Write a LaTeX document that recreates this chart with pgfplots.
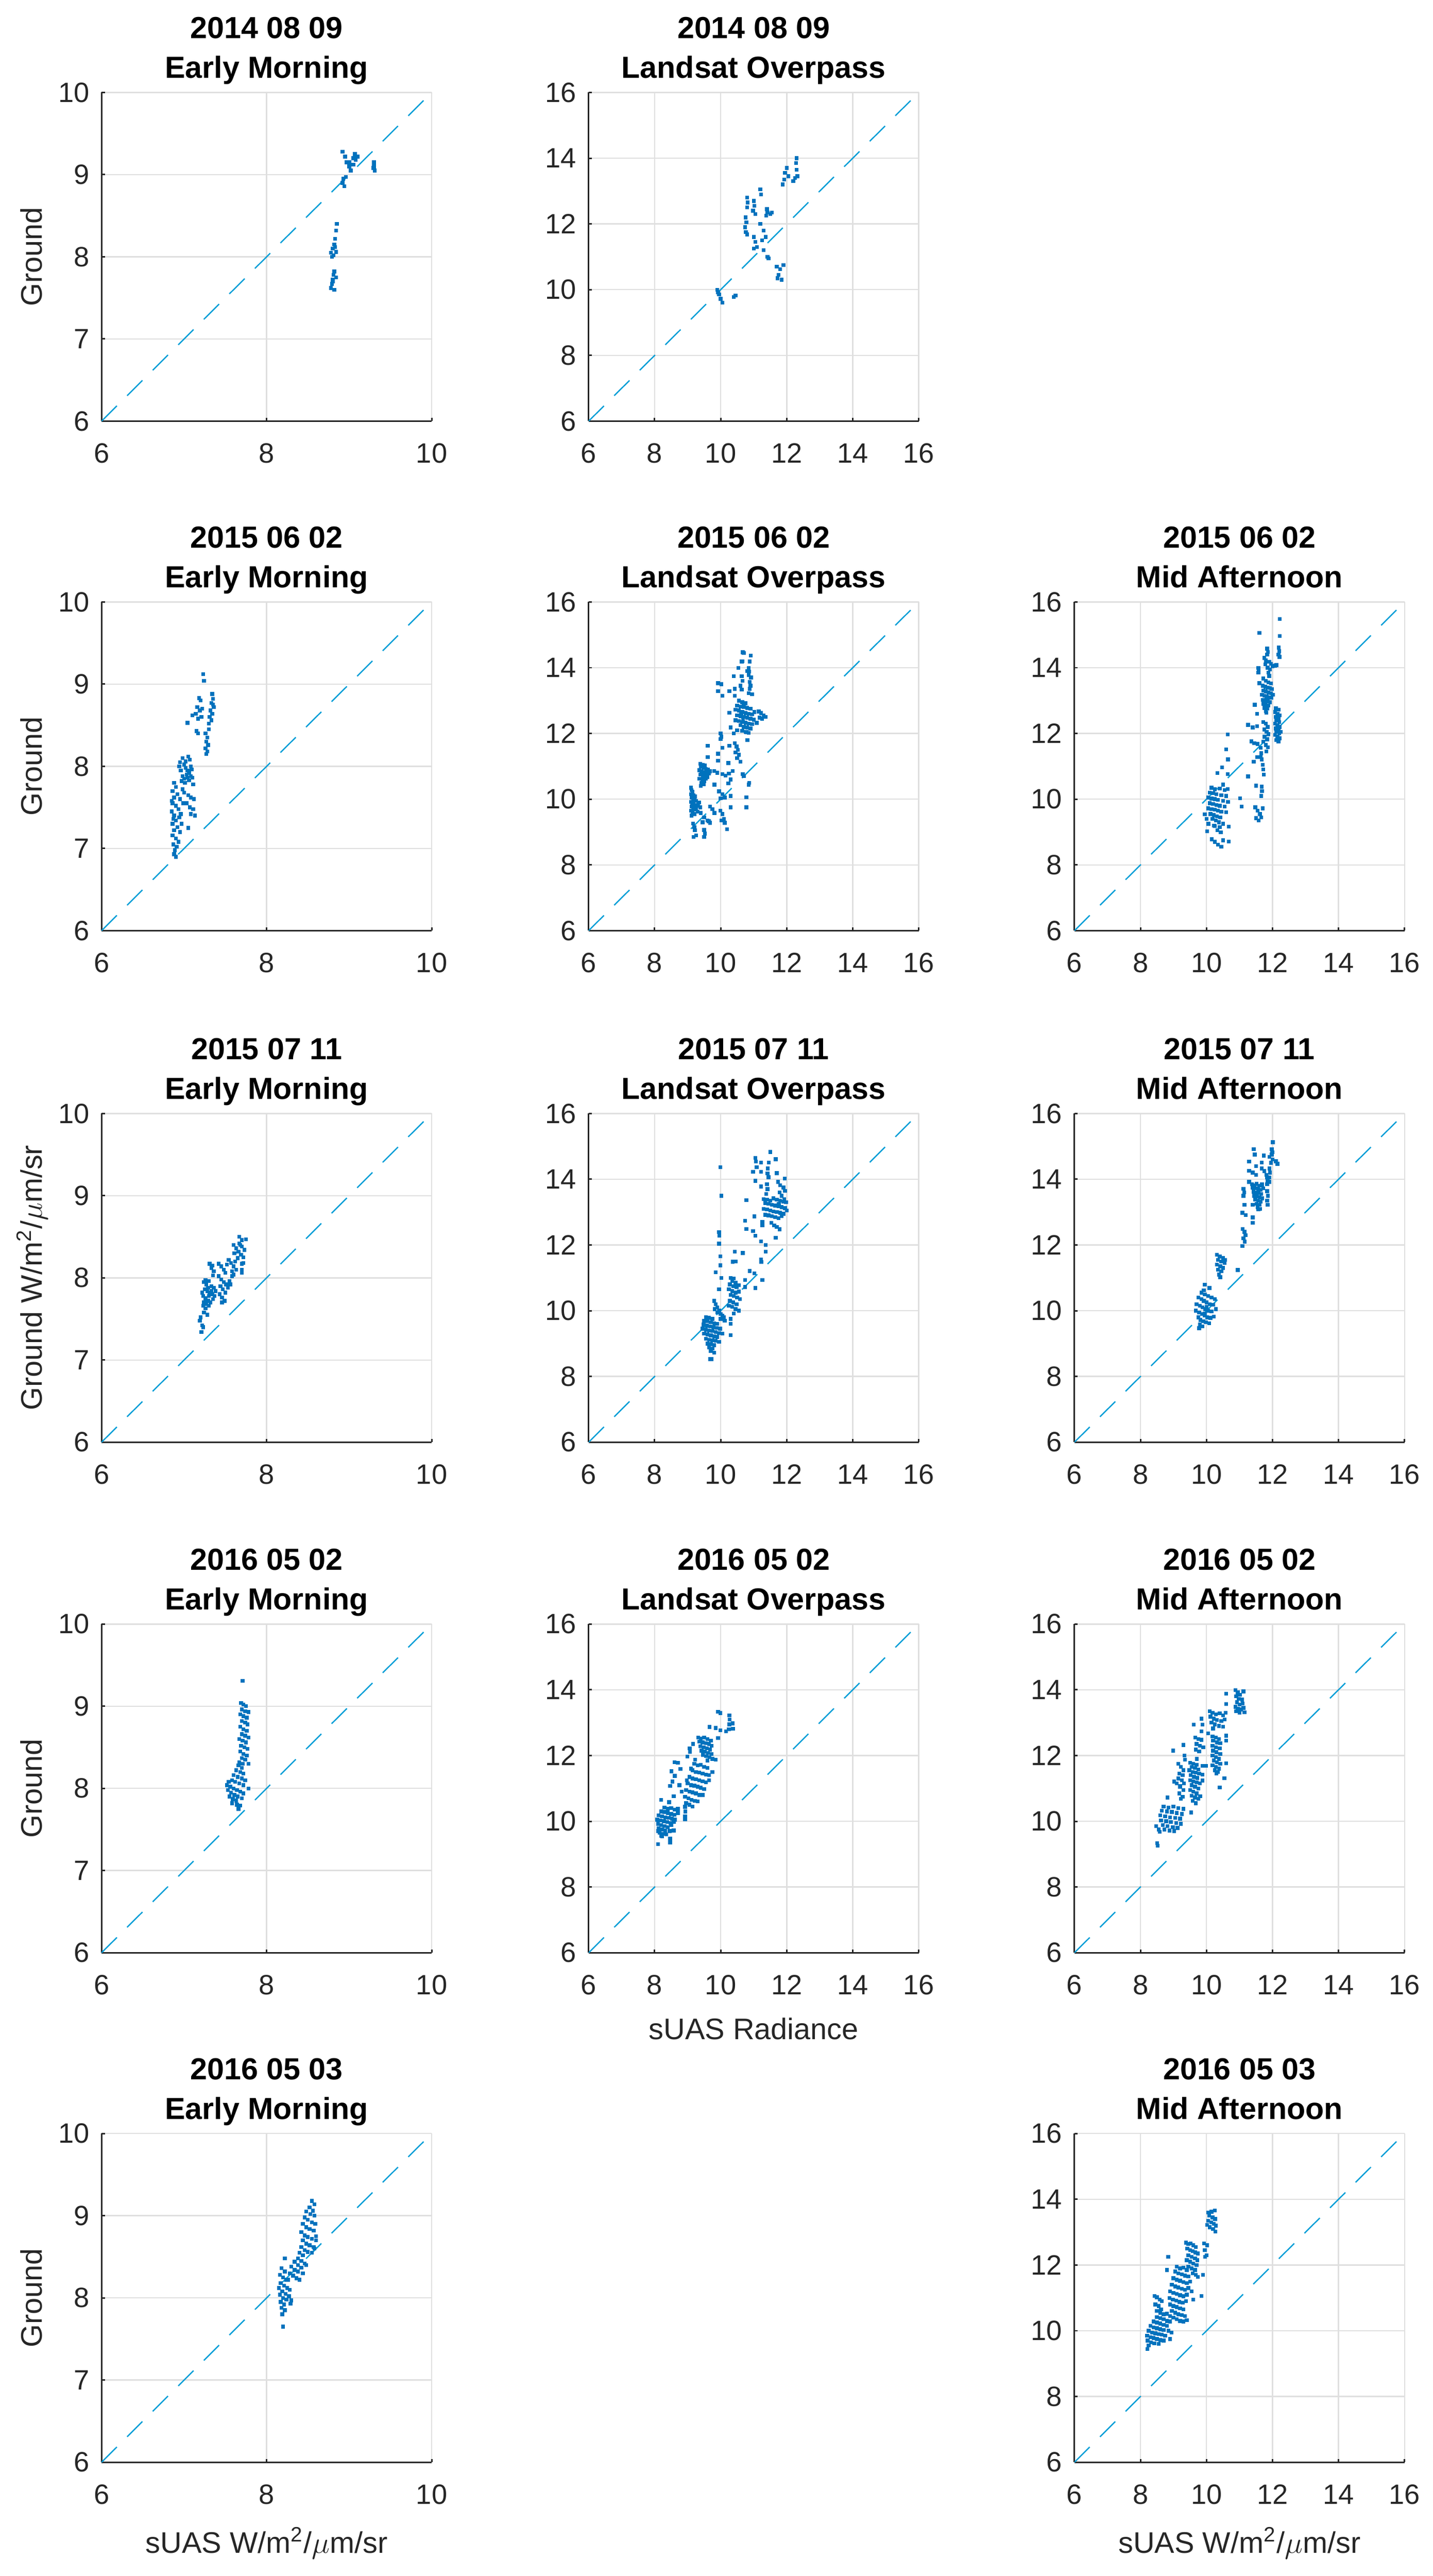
\documentclass[border=0pt]{standalone}
\usepackage{fontspec}
\setmainfont{Liberation Sans}
\usepackage{pgfplots}
\pgfplotsset{compat=1.18}

\definecolor{ptblue}{RGB}{0,114,189}
\definecolor{dashblue}{RGB}{0,157,214}
\definecolor{axgray}{RGB}{38,38,38}
\definecolor{gridgray}{RGB}{223,223,223}

\pgfplotsset{
  panel/.style={
    scale only axis, width=130pt, height=129.4pt, anchor=north west,
    axis lines=left, axis line style={-, color=axgray, line width=0.6pt},
    grid=major, major grid style={color=gridgray, line width=0.5pt},
    tick align=inside, major tick length=1.3pt,
    tick style={color=axgray, line width=0.6pt},
    /pgf/number format/assume math mode=true,
    ticklabel style={font=\fontsize{11}{13}\selectfont, color=axgray},
    xticklabel style={yshift=-5.3pt},
    yticklabel style={xshift=-1.3pt},
    title style={font=\bfseries\fontsize{12}{15.6}\selectfont, align=center,
      text depth=0pt, inner sep=0pt, anchor=south, at={(axis description cs:0.5,1)}, yshift=-0.6pt},
    ylabel style={font=\fontsize{11.7}{14}\selectfont, color=axgray,
      at={(axis description cs:-0.18,0.5)}, anchor=base},
    xlabel style={font=\fontsize{11.7}{14}\selectfont, color=axgray,
      at={(axis description cs:0.5,0)}, anchor=north, inner sep=0pt, yshift=-25.4pt},
  },
  small/.style={panel, xmin=6, xmax=10, ymin=6, ymax=10,
    xtick={6,8,10}, ytick={6,7,8,9,10}},
  big/.style={panel, xmin=6, xmax=16, ymin=6, ymax=16,
    xtick={6,8,...,16}, ytick={6,8,...,16}},
  pts/.style={only marks, mark=square*, mark size=0.55pt, color=ptblue},
  diag/.style={no marks, color=dashblue, line width=0.5pt, dash pattern=on 8.5pt off 5.7pt},
}

\begin{document}
\begin{tikzpicture}
\useasboundingbox (0,0) rectangle (564.2pt,-1014.2pt);

% ---------------- row 1 : 2014 08 09
\begin{axis}[small, at={(40pt,-36.4pt)},
  title={2014 08 09\\Early Morning}, ylabel={Ground}]
\addplot[diag] coordinates {(6,6) (10,10)};
\addplot[pts] coordinates {
(8.85,8.40)(8.84,8.32)(8.83,8.22)(8.82,8.15)(8.80,8.10)(8.78,8.05)(8.81,8.02)(8.84,8.06)(8.79,8.00)(8.83,8.12)
(8.82,7.82)(8.81,7.78)(8.80,7.72)(8.79,7.67)(8.78,7.62)(8.82,7.60)(8.84,7.75)(8.80,7.70)
(8.92,9.28)(8.95,9.22)(8.97,9.15)(9.00,9.10)(9.02,9.05)(9.05,9.12)(9.07,9.25)(9.05,9.20)(9.08,9.18)(9.10,9.22)
(8.93,8.95)(8.92,8.90)(8.94,8.86)(8.96,8.97)(9.30,9.15)(9.30,9.10)(9.31,9.05)(9.29,9.08)(9.00,9.15)};
\end{axis}

\begin{axis}[big, at={(231.8pt,-36.4pt)},
  title={2014 08 09\\Landsat Overpass}]
\addplot[diag] coordinates {(6,6) (16,16)};
\addplot[pts] coordinates {
(9.90,10.00)(9.95,9.85)(10.00,9.72)(10.05,9.60)(9.92,9.92)(10.40,9.78)(10.45,9.82)
(10.80,12.80)(10.82,12.65)(10.80,12.50)(11.00,12.70)(11.02,12.55)(10.98,12.40)(11.05,12.30)(10.75,12.20)(10.78,12.05)
(10.74,11.90)(11.20,13.05)(11.22,12.90)(11.40,12.45)(11.42,12.35)(11.38,12.25)(11.55,12.35)(11.50,12.30)(10.76,11.75)
(10.80,11.68)(11.00,11.60)(11.05,11.45)(11.10,11.30)(11.00,11.25)(11.25,11.50)(11.30,11.20)(11.36,11.60)(11.20,12.00)
(11.30,11.80)(11.42,11.00)(11.45,10.95)
(11.70,10.70)(11.80,10.62)(11.75,10.45)(11.72,10.35)(11.85,10.30)(11.90,10.75)
(12.30,14.00)(12.28,13.85)(12.30,13.65)(12.32,13.45)(12.25,13.40)(12.00,13.70)(11.95,13.55)(11.92,13.35)(12.20,13.30)
(11.88,13.20)(12.05,13.45)};
\end{axis}

% ---------------- row 2 : 2015 06 02
\begin{axis}[small, at={(40pt,-237pt)},
  title={2015 06 02\\Early Morning}, ylabel={Ground}]
\addplot[diag] coordinates {(6,6) (10,10)};
\addplot[pts] coordinates {
(6.95,8.05)(6.98,8.10)(7.00,8.02)(7.02,7.98)(7.04,7.95)(7.06,7.92)(7.08,7.88)(7.05,8.12)(7.07,8.08)(7.03,7.90)
(7.00,7.85)(6.98,7.88)(7.01,7.80)(7.06,7.83)(7.09,7.96)(7.10,7.86)(6.96,7.95)(6.94,8.00)(7.02,8.06)(7.04,7.86)
(7.11,7.78)(7.08,8.00)(6.97,7.82)
(6.88,7.80)(6.90,7.75)(6.86,7.70)(6.92,7.66)(6.88,7.62)(6.95,7.60)(6.86,7.55)(6.90,7.52)(6.93,7.48)(6.85,7.45)
(6.88,7.40)(6.94,7.38)(6.90,7.34)(6.86,7.30)(6.92,7.26)(6.88,7.22)(6.95,7.20)(6.86,7.16)(6.90,7.12)(6.93,7.08)
(6.87,7.05)(6.91,7.02)(6.89,6.98)(6.88,6.93)(6.90,6.90)(6.97,7.30)(6.96,7.42)(6.99,7.55)(7.00,7.68)(6.98,7.72)
(6.85,7.58)(6.87,7.36)
(7.05,7.65)(7.08,7.62)(7.12,7.60)(7.07,7.50)(7.11,7.48)(7.13,7.40)(7.08,7.42)(7.05,7.25)(7.03,7.55)
(7.23,9.12)(7.24,9.04)(7.18,8.83)(7.20,8.80)(7.16,8.72)(7.19,8.68)(7.14,8.64)(7.21,8.60)(7.17,8.58)(7.22,8.70)
(7.15,8.43)(7.17,8.40)(7.04,8.53)(7.10,8.62)
(7.34,8.88)(7.35,8.82)(7.33,8.77)(7.36,8.72)(7.32,8.68)(7.34,8.64)(7.31,8.60)(7.33,8.56)(7.30,8.52)(7.35,8.75)
(7.26,8.40)(7.28,8.35)(7.27,8.30)(7.29,8.26)(7.26,8.22)(7.28,8.18)(7.30,8.45)(7.27,8.15)};
\end{axis}

\begin{axis}[big, at={(231.8pt,-237pt)},
  title={2015 06 02\\Landsat Overpass}]
\addplot[diag] coordinates {(6,6) (16,16)};
\addplot[pts] coordinates {
(10.67,14.47)(10.70,14.45)(10.91,14.37)(10.64,14.19)(10.66,14.20)(10.88,14.19)(10.54,13.99)(10.85,13.99)(10.86,13.88)
(10.85,13.78)(10.40,13.74)(10.64,13.74)(10.66,13.60)(10.88,13.57)(10.90,13.45)(10.88,13.36)(9.92,13.53)(10.02,13.50)
(9.92,13.29)(10.05,13.15)(10.26,13.29)(10.43,13.36)(10.64,13.33)(10.85,13.22)(10.95,13.19)(10.43,13.15)(10.80,13.90)
(10.92,13.70)(10.60,13.45)
(10.55,13.00)(10.65,12.95)(10.75,12.92)(10.50,12.85)(10.60,12.82)(10.70,12.80)(10.80,12.78)(10.90,12.75)(10.45,12.72)
(10.55,12.70)(10.65,12.65)(10.75,12.62)(10.85,12.60)(10.95,12.58)(10.50,12.55)(10.60,12.52)(10.70,12.50)(10.80,12.48)
(10.90,12.45)(11.00,12.42)(10.45,12.40)(10.55,12.38)(10.65,12.35)(10.75,12.32)(10.85,12.30)(10.95,12.28)(10.60,12.25)
(10.70,12.20)(10.80,12.18)(10.90,12.15)(10.50,12.10)(10.65,12.08)(10.75,12.05)(10.85,12.02)(10.40,12.00)(10.70,12.88)
(10.62,12.58)(10.68,12.42)(11.02,12.65)
(11.15,12.67)(11.22,12.62)(11.30,12.55)(11.36,12.50)(11.25,12.45)(11.18,12.48)(11.09,12.32)(10.26,12.63)(10.30,12.18)
(10.78,12.04)
(10.00,12.00)(10.02,11.90)(10.00,11.83)(9.61,11.63)(10.05,11.56)(10.26,11.63)(10.43,11.70)(10.48,11.60)(10.52,11.50)
(10.45,11.42)(10.55,11.35)(10.50,11.25)(10.60,11.14)(10.81,11.80)(9.92,11.38)(9.92,11.17)(10.23,11.10)(9.61,11.28)
(9.38,11.08)(9.45,11.05)(9.52,11.02)(9.40,10.98)(9.48,10.95)(9.55,10.92)(9.62,10.90)(9.35,10.88)(9.42,10.85)(9.50,10.82)
(9.58,10.80)(9.65,10.78)(9.38,10.75)(9.46,10.72)(9.53,10.70)(9.60,10.68)(9.36,10.62)(9.44,10.60)(9.50,10.55)(9.42,10.50)
(9.48,10.45)(9.40,10.40)(9.55,10.62)(9.68,10.85)
(9.80,10.86)(9.90,10.80)(10.05,10.76)(10.15,10.72)(10.25,10.78)(10.36,10.86)(10.67,10.76)(10.70,10.70)(10.85,10.44)
(10.86,10.50)(9.81,10.44)(10.23,10.48)(10.30,10.60)
(9.10,10.35)(9.12,10.28)(9.15,10.22)(9.10,10.15)(9.18,10.12)(9.22,10.08)(9.12,10.05)(9.16,10.00)(9.20,9.98)(9.25,9.95)
(9.10,9.92)(9.14,9.88)(9.18,9.85)(9.22,9.82)(9.28,9.80)(9.32,9.85)(9.12,9.78)(9.16,9.75)(9.20,9.72)(9.25,9.68)
(9.10,9.65)(9.15,9.60)(9.20,9.55)(9.12,9.50)(9.35,9.90)(9.38,9.75)(9.30,9.62)
(9.95,10.24)(10.05,10.15)(10.12,10.05)(10.00,10.03)(10.30,10.10)(10.78,10.06)(10.78,9.75)(10.30,9.75)(9.68,9.78)
(9.75,9.70)(9.81,9.58)(9.99,9.65)(10.05,9.55)(10.10,9.40)(10.12,9.28)(10.02,9.35)(10.19,9.09)(9.40,9.58)(9.50,9.45)
(9.60,9.35)(9.68,9.28)(9.45,9.30)(9.16,9.26)(9.20,9.15)(9.22,9.05)(9.26,8.90)(9.18,8.85)(9.50,9.06)(9.52,8.95)
(9.50,8.85)(9.64,9.33)};
\end{axis}

\begin{axis}[big, at={(423.1pt,-237pt)},
  title={2015 06 02\\Mid Afternoon}]
\addplot[diag] coordinates {(6,6) (16,16)};
\addplot[pts] coordinates {
(12.22,15.48)(11.60,15.06)(12.22,14.96)(11.84,14.58)(11.86,14.48)(11.84,14.40)(12.19,14.61)(12.20,14.50)(12.18,14.40)
(12.21,14.33)(11.75,14.30)(11.80,14.22)(11.90,14.18)(11.95,14.12)(12.00,14.05)(11.78,14.10)(11.85,14.00)(11.92,13.95)
(12.08,14.06)(12.12,14.08)(11.57,13.99)(11.58,13.90)(11.57,13.85)(11.88,13.85)(11.90,13.75)(11.72,13.67)(11.80,13.60)
(11.88,13.55)(11.95,13.52)(11.60,13.53)
(11.70,13.45)(11.78,13.42)(11.85,13.40)(11.92,13.38)(11.98,13.35)(11.72,13.30)(11.80,13.28)(11.88,13.25)(11.95,13.22)
(11.68,13.18)(11.75,13.15)(11.82,13.12)(11.90,13.10)(11.97,13.08)(11.70,13.02)(11.78,13.00)(11.85,12.98)(11.92,12.95)
(11.72,12.90)(11.80,12.88)(11.88,12.85)(11.76,12.78)(11.84,12.75)(11.80,12.68)(12.01,13.18)
(11.46,12.87)(11.53,12.60)(11.81,12.63)
(12.10,12.77)(12.18,12.72)(12.08,12.65)(12.15,12.60)(12.22,12.55)(12.10,12.50)(12.18,12.45)(12.12,12.40)(12.20,12.35)
(12.08,12.30)(12.15,12.25)(12.22,12.20)(12.10,12.15)(12.18,12.10)(12.12,12.05)(12.20,12.00)(12.08,11.95)(12.15,11.90)
(12.22,11.85)(12.12,11.80)(12.18,11.75)(12.25,12.05)
(11.26,12.26)(11.40,12.18)(11.53,12.22)
(11.72,12.35)(11.80,12.30)(11.85,12.20)(11.75,12.12)(11.82,12.05)(11.88,11.98)(11.76,11.90)(11.84,11.82)(11.72,11.75)
(11.80,11.65)(11.86,11.58)
(11.36,11.76)(11.45,11.70)(11.55,11.68)(11.64,11.56)(11.66,11.40)(11.64,11.28)(11.81,11.45)(11.53,11.28)(11.43,11.14)
(11.67,11.21)(11.70,11.05)(11.72,10.90)(11.74,10.75)(11.26,10.69)(11.50,10.41)(11.67,10.38)(11.68,10.25)(11.66,10.10)
(11.48,9.75)(11.55,9.65)(11.62,9.55)(11.70,9.72)(11.50,9.42)(11.58,9.35)(11.66,9.45)
(10.64,11.97)(10.60,11.52)(10.65,11.21)(10.47,10.97)(10.33,10.79)(10.64,10.76)(10.50,10.44)(10.64,10.31)(11.02,10.03)
(11.06,9.78)
(10.15,10.35)(10.25,10.30)(10.40,10.32)(10.55,10.28)(10.10,10.20)(10.20,10.18)(10.30,10.15)(10.45,10.12)(10.60,10.10)
(10.05,10.05)(10.15,10.02)(10.25,10.00)(10.35,9.98)(10.50,9.95)(10.65,9.92)(10.10,9.88)(10.20,9.85)(10.30,9.82)
(10.40,9.80)(10.55,9.78)(10.05,9.72)(10.15,9.70)(10.25,9.68)(10.35,9.65)(10.45,9.62)(10.60,9.60)(10.12,9.55)
(10.22,9.52)(10.32,9.48)(10.42,9.45)(10.18,9.40)(10.28,9.35)(10.38,9.30)(10.50,9.25)(10.25,9.18)(10.40,9.15)
(9.95,9.54)(10.00,9.40)(10.06,9.25)(10.02,9.02)(10.16,8.78)(10.25,8.70)(10.35,8.62)(10.45,8.55)(10.50,8.75)
(10.67,8.71)(10.23,9.20)(10.33,9.05)(10.43,8.99)(10.67,9.16)};
\end{axis}

% ---------------- row 3 : 2015 07 11
\begin{axis}[small, at={(40pt,-438.4pt)},
  title={2015 07 11\\Early Morning}, ylabel={Ground W/m\textsuperscript{2}/$\mu$m/sr}]
\addplot[diag] coordinates {(6,6) (10,10)};
\addplot[pts] coordinates {
(7.21,7.34)(7.19,7.48)(7.22,7.42)(7.23,7.40)(7.20,7.52)(7.24,7.58)(7.26,7.63)(7.28,7.55)(7.30,7.66)(7.23,7.66)
(7.24,7.95)(7.27,7.92)(7.30,7.96)(7.33,7.90)(7.36,7.88)(7.25,7.86)(7.28,7.84)(7.31,7.82)(7.34,7.80)(7.37,7.78)
(7.23,7.78)(7.26,7.75)(7.29,7.72)(7.32,7.70)(7.35,7.74)(7.24,7.70)(7.27,7.68)(7.30,7.78)(7.33,7.84)(7.38,7.84)
(7.22,7.82)(7.29,7.88)(7.26,7.97)
(7.31,8.17)(7.33,8.12)(7.36,8.08)(7.35,8.03)(7.34,8.15)
(7.42,8.17)(7.45,8.14)(7.48,8.10)(7.52,8.16)(7.50,8.06)
(7.42,8.02)(7.45,7.98)(7.48,7.95)(7.51,7.92)(7.55,7.96)(7.58,8.02)(7.44,7.90)(7.47,7.86)(7.50,7.82)(7.53,7.88)
(7.56,7.92)(7.43,7.80)(7.46,7.76)(7.49,7.72)(7.46,7.70)(7.60,8.04)
(7.54,8.22)(7.57,8.18)(7.60,8.14)(7.63,8.10)(7.58,8.08)(7.62,8.20)
(7.60,8.40)(7.63,8.36)(7.66,8.32)(7.69,8.28)(7.72,8.25)(7.65,8.24)(7.61,8.30)(7.67,8.42)(7.70,8.38)(7.73,8.34)
(7.67,8.50)(7.70,8.46)(7.68,8.40)(7.75,8.47)(7.70,8.17)(7.70,8.10)(7.72,8.18)(7.70,8.06)};
\end{axis}

\begin{axis}[big, at={(231.8pt,-438.4pt)},
  title={2015 07 11\\Landsat Overpass}]
\addplot[diag] coordinates {(6,6) (16,16)};
\addplot[pts] coordinates {
(11.50,14.83)(11.05,14.65)(11.07,14.54)(11.22,14.51)(11.46,14.51)(11.67,14.61)(11.09,14.37)(9.99,14.37)(10.98,14.23)
(11.22,14.23)(11.43,14.33)(11.42,14.18)(11.45,14.06)(11.70,14.19)(11.05,13.95)(11.94,14.02)(11.22,13.78)(11.40,13.85)
(11.42,13.70)(11.38,13.55)(11.74,13.92)(11.80,13.82)(11.90,13.75)(11.95,13.65)(11.78,13.60)(11.85,13.50)(11.92,13.40)
(11.98,13.30)(11.76,13.25)(10.78,13.36)(10.02,13.50)
(11.30,13.40)(11.40,13.38)(11.50,13.35)(11.60,13.42)(11.70,13.38)(11.80,13.35)(11.90,13.32)(11.35,13.28)(11.45,13.25)
(11.55,13.22)(11.65,13.20)(11.75,13.18)(11.85,13.15)(11.95,13.12)(11.30,13.10)(11.40,13.08)(11.50,13.05)(11.60,13.02)
(11.70,13.00)(11.80,12.98)(11.90,12.95)(11.35,12.92)(11.45,12.90)(11.55,12.88)(11.65,12.85)(11.75,12.82)(11.85,12.88)
(12.00,13.05)
(11.02,12.87)(10.74,12.74)(11.26,12.70)(11.26,12.60)(11.53,12.67)(11.62,12.60)(11.70,12.55)(11.78,12.48)(10.78,12.49)
(10.98,12.42)(11.05,12.28)(11.67,12.22)(11.22,12.11)(11.36,12.00)(11.36,11.80)
(9.95,12.39)(9.96,12.28)(9.95,12.04)(9.99,11.66)(9.99,11.38)(9.85,11.17)(10.02,11.00)(9.95,10.65)
(10.43,11.80)(10.67,11.76)(10.36,11.49)(10.45,11.50)(11.22,11.56)(11.23,11.48)(10.88,11.21)(11.02,11.14)(11.26,10.93)
(10.74,10.93)(11.05,10.69)(10.74,10.72)
(10.30,11.00)(10.40,10.98)(10.35,10.90)(10.45,10.85)(10.28,10.80)(10.38,10.75)(10.48,10.72)(10.55,10.78)(10.25,10.65)
(10.35,10.60)(10.45,10.55)(10.55,10.58)(10.30,10.48)(10.40,10.45)(10.50,10.40)(10.58,10.35)(10.28,10.30)(10.38,10.25)
(10.48,10.20)(10.35,10.12)(10.45,10.05)(10.55,10.00)(10.40,9.92)(10.25,10.15)
(9.80,10.30)(9.85,10.20)(9.90,10.10)(9.95,10.00)(10.00,9.90)(10.05,9.85)(10.10,9.80)(9.82,10.05)(9.90,9.95)(10.00,9.75)
(10.12,9.70)(10.30,9.75)(10.30,9.60)(10.30,9.26)
(9.55,9.80)(9.65,9.78)(9.75,9.75)(9.50,9.70)(9.60,9.68)(9.70,9.65)(9.80,9.62)(9.90,9.60)(9.48,9.58)(9.58,9.55)
(9.68,9.52)(9.78,9.50)(9.88,9.48)(9.98,9.45)(9.45,9.45)(9.55,9.42)(9.65,9.40)(9.75,9.38)(9.85,9.35)(9.95,9.32)
(10.05,9.30)(9.50,9.30)(9.60,9.28)(9.70,9.25)(9.80,9.22)(9.90,9.20)(9.55,9.15)(9.65,9.12)(9.75,9.10)(9.85,9.08)
(9.95,9.05)(9.60,9.00)(9.70,8.98)(9.80,8.95)(9.65,8.88)(9.75,8.85)(9.70,8.78)(9.80,8.72)(9.68,8.53)(9.72,8.53)};
\end{axis}

\begin{axis}[big, at={(423.1pt,-438.4pt)},
  title={2015 07 11\\Mid Afternoon}]
\addplot[diag] coordinates {(6,6) (16,16)};
\addplot[pts] coordinates {
(12.01,15.13)(11.43,14.92)(11.46,14.75)(11.98,14.92)(11.99,14.82)(11.98,14.75)(11.74,14.72)(11.91,14.68)(12.00,14.60)
(12.10,14.55)(12.15,14.47)(11.95,14.50)(11.29,14.54)(11.50,14.40)(11.67,14.51)(11.67,14.33)(11.75,14.25)(11.81,14.13)
(11.29,14.26)(11.40,14.20)(11.50,14.13)(11.29,13.92)(11.84,14.06)(11.85,13.95)(11.84,13.85)(11.91,14.33)(11.92,14.20)
(11.91,14.05)(11.90,13.92)
(11.38,13.85)(11.45,13.82)(11.52,13.86)(11.60,13.80)(11.68,13.84)(11.40,13.75)(11.48,13.72)(11.56,13.70)(11.64,13.68)
(11.72,13.72)(11.42,13.62)(11.50,13.60)(11.58,13.58)(11.66,13.55)(11.45,13.50)(11.53,13.48)(11.61,13.45)(11.69,13.42)
(11.48,13.38)(11.56,13.35)(11.64,13.32)(11.52,13.25)(11.60,13.22)(11.55,13.15)(11.62,13.10)
(11.12,13.71)(11.14,13.60)(11.12,13.50)(11.15,13.22)(11.84,13.64)(11.86,13.50)(11.84,13.35)(11.85,13.22)(11.40,13.22)
(11.57,13.08)
(11.09,12.98)(11.19,12.91)(11.40,12.84)(11.40,12.67)(11.10,12.49)(11.15,12.40)(11.18,12.30)(11.12,12.20)(11.16,12.10)
(11.09,11.97)
(10.32,11.70)(10.40,11.65)(10.50,11.60)(10.35,11.55)(10.45,11.50)(10.55,11.45)(10.32,11.40)(10.42,11.35)(10.50,11.30)
(10.35,11.25)(10.45,11.20)(10.38,11.10)(10.42,11.02)(10.95,11.24)(10.57,11.55)
(9.95,10.79)(10.09,10.69)(9.85,10.55)(9.95,10.50)(10.05,10.45)(10.15,10.40)(10.25,10.35)(9.75,10.40)(9.85,10.35)
(9.92,10.30)(10.00,10.25)(10.10,10.20)(10.20,10.18)(9.70,10.20)(9.80,10.15)(9.88,10.10)(9.96,10.05)(10.05,10.00)
(10.15,9.98)(10.28,10.05)(9.68,10.00)(9.78,9.95)(9.86,9.90)(9.94,9.85)(10.02,9.80)(10.12,9.78)(10.22,9.82)(9.75,9.80)
(9.82,9.72)(9.90,9.68)(9.98,9.65)(10.08,9.62)(9.80,9.58)(9.88,9.52)(9.78,9.47)(9.95,9.92)(9.92,10.62)(10.00,10.12)};
\end{axis}

% ---------------- row 4 : 2016 05 02
\begin{axis}[small, at={(40pt,-639.4pt)},
  title={2016 05 02\\Early Morning}, ylabel={Ground}]
\addplot[diag] coordinates {(6,6) (10,10)};
\addplot[pts] coordinates {
(7.71,9.31)
(7.69,9.04)(7.72,9.02)(7.75,9.00)(7.70,8.96)(7.74,8.94)(7.78,8.93)(7.68,8.90)(7.72,8.88)(7.76,8.86)(7.70,8.82)
(7.74,8.80)(7.77,8.78)(7.68,8.75)(7.72,8.72)(7.76,8.70)(7.70,8.66)(7.74,8.64)(7.78,8.62)(7.67,8.60)(7.71,8.58)
(7.75,8.56)(7.69,8.52)(7.73,8.50)(7.77,8.48)(7.68,8.45)(7.72,8.42)(7.76,8.40)(7.70,8.37)(7.74,8.35)(7.67,8.32)
(7.71,8.30)(7.78,8.30)
(7.66,8.28)(7.70,8.25)(7.63,8.22)(7.68,8.20)(7.72,8.18)(7.60,8.16)(7.65,8.14)(7.70,8.12)(7.58,8.10)(7.62,8.08)
(7.67,8.06)(7.72,8.04)(7.54,8.08)(7.52,8.04)(7.56,8.02)(7.60,8.00)(7.64,7.98)(7.68,7.96)(7.72,7.94)(7.53,7.98)
(7.57,7.95)(7.61,7.92)(7.65,7.90)(7.70,7.88)(7.55,7.90)(7.59,7.87)(7.63,7.85)(7.58,7.82)(7.64,7.80)(7.68,7.79)
(7.66,7.75)(7.78,8.00)(7.74,8.10)};
\end{axis}

\begin{axis}[big, at={(231.8pt,-639.4pt)},
  title={2016 05 02\\Landsat Overpass}, xlabel={sUAS Radiance}]
\addplot[diag] coordinates {(6,6) (16,16)};
\addplot[pts] coordinates {
(9.92,13.33)(9.99,13.29)(10.26,13.22)(10.27,13.10)(10.26,12.95)(10.25,12.80)(10.36,12.98)(10.37,12.81)(10.16,12.74)
(9.99,12.77)(9.85,12.84)(9.66,12.87)(9.92,12.53)
(9.32,12.55)(9.40,12.52)(9.50,12.55)(9.60,12.50)(9.70,12.45)(9.35,12.42)(9.45,12.40)(9.55,12.38)(9.65,12.35)(9.72,12.30)
(9.38,12.28)(9.48,12.25)(9.58,12.22)(9.68,12.18)(9.42,12.15)(9.52,12.12)(9.62,12.08)(9.72,12.05)(9.46,12.02)(9.56,11.98)
(9.66,11.95)(9.75,11.90)(9.60,11.85)(9.85,11.87)
(9.16,12.35)(9.06,12.22)(9.07,12.11)(8.99,11.97)(9.23,11.87)
(8.60,11.80)(8.70,11.78)(8.78,11.59)(8.51,11.52)(8.61,11.38)(8.54,11.21)(8.47,11.07)(8.75,11.10)(8.82,10.90)(8.58,10.76)
(8.20,10.65)(8.44,10.58)
(9.20,11.75)(9.30,11.70)(9.40,11.72)(9.50,11.65)(9.60,11.62)(9.15,11.55)(9.25,11.50)(9.35,11.48)(9.45,11.45)(9.55,11.42)
(9.65,11.40)(9.75,11.50)(9.05,11.35)(9.15,11.30)(9.25,11.28)(9.35,11.25)(9.45,11.22)(9.55,11.18)(9.65,11.25)(9.00,11.15)
(9.10,11.10)(9.20,11.08)(9.30,11.05)(9.40,11.02)(9.50,10.98)(8.95,10.95)(9.05,10.90)(9.15,10.88)(9.25,10.85)(9.35,10.80)
(8.92,10.75)(9.02,10.70)(9.12,10.65)(9.22,10.62)(8.95,10.55)(9.05,10.50)(9.15,10.45)(9.45,10.80)(9.30,10.60)(9.10,11.60)
(8.98,11.25)
(8.30,10.42)(8.40,10.38)(8.50,10.40)(8.60,10.35)(8.70,10.38)(8.20,10.30)(8.30,10.28)(8.40,10.25)(8.50,10.22)(8.60,10.20)
(8.70,10.25)(8.12,10.18)(8.22,10.15)(8.32,10.12)(8.42,10.10)(8.52,10.08)(8.62,10.05)(8.08,10.05)(8.18,10.02)(8.28,10.00)
(8.38,9.98)(8.48,9.95)(8.58,9.98)(8.10,9.92)(8.20,9.88)(8.30,9.85)(8.40,9.82)(8.50,9.88)(8.12,9.78)(8.22,9.75)
(8.32,9.72)(8.45,9.70)(8.15,9.65)(8.25,9.62)(8.35,9.60)(8.20,9.55)(8.10,9.70)
(8.92,10.44)(8.93,10.30)(8.92,10.15)(8.92,10.06)(8.10,9.30)(8.47,9.47)(8.47,9.35)(8.58,9.72)(8.23,9.54)};
\end{axis}

\begin{axis}[big, at={(423.1pt,-639.4pt)},
  title={2016 05 02\\Mid Afternoon}]
\addplot[diag] coordinates {(6,6) (16,16)};
\addplot[pts] coordinates {
(10.88,13.99)(10.95,13.92)(11.02,13.85)(10.90,13.80)(10.98,13.72)(11.08,13.70)(10.92,13.62)(11.00,13.55)(11.10,13.58)
(10.88,13.48)(10.95,13.42)(11.05,13.40)(11.12,13.45)(10.90,13.35)(11.00,13.30)(11.15,13.32)(10.60,13.88)(10.60,13.57)
(11.12,13.95)
(10.10,13.35)(10.18,13.30)(10.28,13.25)(10.40,13.28)(10.50,13.22)(10.58,13.30)(10.12,13.18)(10.22,13.12)(10.32,13.08)
(10.45,13.05)(10.55,13.10)(10.15,13.00)(10.25,12.95)(10.38,12.90)(10.50,12.88)(10.20,12.82)(9.85,13.12)(9.61,12.94)
(9.88,12.94)(9.85,12.74)(10.05,12.67)
(10.18,12.58)(10.28,12.55)(10.38,12.50)(10.20,12.45)(10.32,12.40)(10.42,12.38)(10.18,12.30)(10.28,12.25)(10.40,12.22)
(10.20,12.15)(10.30,12.10)(10.42,12.05)(10.18,12.00)(10.28,11.95)(10.38,11.90)(10.22,11.85)(10.32,11.80)(10.42,11.75)
(10.18,11.70)(10.28,11.65)(10.38,11.60)(10.25,11.55)(10.35,11.50)(10.30,11.45)(10.60,12.60)(10.60,12.45)(10.60,11.76)
(10.54,11.31)(10.40,11.03)
(9.66,12.55)(9.75,12.50)(9.85,12.48)(9.70,12.35)(9.80,12.30)(9.90,12.25)(9.68,12.18)(9.78,12.12)(9.30,12.32)(8.99,12.15)
(9.71,11.90)(9.33,12.00)(9.35,11.87)(9.88,11.69)(9.99,11.69)
(9.50,11.78)(9.60,11.75)(9.70,11.72)(9.55,11.65)(9.65,11.62)(9.75,11.58)(9.48,11.55)(9.58,11.50)(9.68,11.48)(9.78,11.45)
(9.52,11.40)(9.62,11.35)(9.72,11.32)(9.50,11.25)(9.60,11.22)(9.70,11.18)(9.80,11.15)(9.55,11.10)(9.65,11.05)(9.75,11.00)
(9.50,10.95)(9.60,10.90)(9.70,10.85)(9.55,10.78)(9.65,10.72)(9.75,10.68)(9.58,10.62)(9.68,10.55)(9.88,11.42)(9.88,11.24)
(9.81,10.76)
(9.15,11.75)(9.22,11.65)(9.30,11.55)(9.18,11.45)(9.28,11.40)(9.15,11.30)(9.25,11.25)(9.32,11.15)(9.20,11.05)(9.30,10.95)
(9.18,10.85)(9.28,10.75)(9.22,10.68)(9.02,11.21)(9.10,11.15)(9.20,11.07)(8.82,10.72)
(8.70,10.45)(8.85,10.42)(9.00,10.45)(9.15,10.40)(9.30,10.38)(8.65,10.32)(8.80,10.30)(8.95,10.28)(9.10,10.25)(9.25,10.22)
(8.60,10.18)(8.75,10.15)(8.90,10.12)(9.05,10.10)(9.20,10.08)(8.62,10.02)(8.78,10.00)(8.92,9.98)(9.08,9.95)(9.22,9.92)
(8.68,9.88)(8.82,9.85)(8.98,9.82)(9.12,9.80)(8.72,9.75)(8.88,9.72)(9.02,9.70)(9.54,10.27)(8.47,9.85)(8.55,9.75)
(8.58,9.68)(8.51,9.33)(8.52,9.26)};
\end{axis}

% ---------------- row 5 : 2016 05 03
\begin{axis}[small, at={(40pt,-840pt)},
  title={2016 05 03\\Early Morning}, ylabel={Ground},
  xlabel={sUAS W/m\textsuperscript{2}/$\mu$m/sr}]
\addplot[diag] coordinates {(6,6) (10,10)};
\addplot[pts] coordinates {
(8.55,9.18)(8.58,9.14)(8.52,9.10)(8.56,9.06)(8.48,9.05)(8.53,9.02)(8.58,9.00)(8.46,8.98)(8.50,8.95)(8.55,8.92)
(8.59,8.90)(8.44,8.90)(8.48,8.86)(8.52,8.84)(8.57,8.82)(8.42,8.80)(8.46,8.76)(8.50,8.74)(8.55,8.72)(8.60,8.70)
(8.44,8.70)(8.48,8.66)(8.52,8.64)(8.57,8.62)(8.42,8.62)(8.46,8.58)(8.50,8.56)(8.55,8.55)(8.60,8.75)(8.58,8.60)
(8.40,8.55)(8.44,8.52)(8.38,8.48)(8.42,8.45)(8.46,8.42)(8.34,8.44)(8.38,8.40)(8.42,8.37)(8.30,8.38)(8.34,8.34)
(8.38,8.32)(8.44,8.30)(8.28,8.30)(8.32,8.27)(8.36,8.24)(8.40,8.22)(8.48,8.40)(8.26,8.22)
(8.18,8.36)(8.22,8.32)(8.16,8.28)(8.20,8.25)(8.24,8.22)(8.17,8.18)(8.21,8.15)(8.25,8.12)(8.15,8.12)(8.19,8.08)
(8.23,8.05)(8.27,8.02)(8.16,8.04)(8.20,8.00)(8.24,7.98)(8.17,7.95)(8.21,7.92)(8.18,7.88)(8.22,7.85)(8.19,7.80)
(8.20,7.65)(8.22,8.48)(8.30,7.97)(8.28,8.10)(8.29,7.93)};
\end{axis}

\begin{axis}[big, at={(423.1pt,-840pt)},
  title={2016 05 03\\Mid Afternoon},
  xlabel={sUAS W/m\textsuperscript{2}/$\mu$m/sr}]
\addplot[diag] coordinates {(6,6) (16,16)};
\addplot[pts] coordinates {
(10.05,13.60)(10.15,13.62)(10.25,13.66)(10.08,13.50)(10.18,13.45)(10.26,13.40)(10.05,13.35)(10.14,13.30)(10.22,13.25)
(10.28,13.20)(10.10,13.15)(10.20,13.10)(10.27,13.02)(10.02,13.22)
(9.93,12.66)(10.02,12.60)(9.95,12.45)(10.00,12.30)(9.96,12.25)
(9.38,12.68)(9.45,12.64)(9.52,12.66)(9.60,12.60)(9.68,12.55)(9.42,12.50)(9.50,12.45)(9.58,12.42)(9.66,12.38)(9.74,12.35)
(9.45,12.30)(9.55,12.25)(9.65,12.20)(9.72,12.15)(9.40,12.15)(9.50,12.10)(9.60,12.05)(9.70,12.00)(9.45,11.95)(9.55,11.90)
(9.65,11.85)(9.58,11.75)(9.68,11.70)(9.74,11.64)
(8.84,12.25)(8.80,11.85)
(9.10,11.95)(9.20,11.90)(9.30,11.92)(9.40,11.85)(9.05,11.80)(9.15,11.75)(9.25,11.72)(9.35,11.68)(9.45,11.65)(9.00,11.60)
(9.10,11.55)(9.20,11.52)(9.30,11.48)(9.40,11.45)(9.50,11.50)(8.95,11.40)(9.05,11.35)(9.15,11.32)(9.25,11.28)(9.35,11.25)
(9.45,11.30)(8.90,11.20)(9.00,11.15)(9.10,11.12)(9.20,11.08)(9.30,11.05)(9.40,11.10)(8.88,11.00)(8.98,10.95)(9.08,10.92)
(9.18,10.88)(9.28,10.85)(9.38,10.90)(8.90,10.80)(9.00,10.75)(9.10,10.72)(9.20,10.68)(9.30,10.65)(8.95,10.60)(9.05,10.55)
(9.15,10.50)(9.25,10.48)(9.35,10.45)(9.00,10.40)(9.10,10.35)(9.20,10.30)(9.30,10.28)(9.40,10.32)(9.55,11.20)(9.60,10.95)
(9.89,11.70)(9.85,11.06)
(8.43,11.06)(8.50,11.02)(8.58,10.95)(8.65,10.90)(8.45,10.80)(8.55,10.75)(8.62,10.65)(8.50,10.60)
(8.60,10.55)(8.70,10.50)(8.80,10.52)(8.90,10.45)(8.50,10.42)(8.60,10.38)(8.70,10.35)(8.80,10.30)(8.90,10.28)(8.40,10.28)
(8.50,10.25)(8.60,10.22)(8.70,10.18)(8.80,10.15)(8.30,10.15)(8.40,10.10)(8.50,10.08)(8.60,10.05)(8.70,10.02)(8.85,10.00)
(8.25,10.00)(8.35,9.95)(8.45,9.92)(8.55,9.90)(8.65,9.88)(8.75,9.85)(8.20,9.85)(8.30,9.80)(8.40,9.78)(8.50,9.75)
(8.60,9.72)(8.70,9.70)(8.22,9.70)(8.32,9.65)(8.42,9.62)(8.55,9.60)(8.25,9.55)(8.21,9.44)(8.90,9.75)(8.94,9.95)};
\end{axis}
\end{tikzpicture}
\end{document}
